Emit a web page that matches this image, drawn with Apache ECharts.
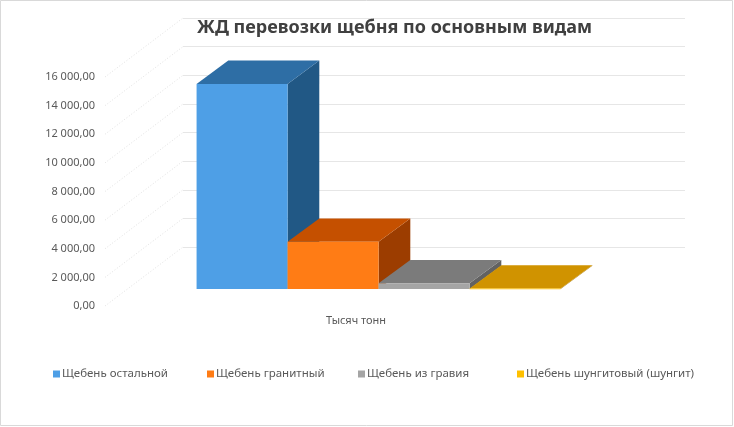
<!DOCTYPE html>
<html>
<head>
<meta charset="utf-8">
<script src="https://cdn.jsdelivr.net/npm/echarts@6/dist/echarts.min.js"></script>
<style>
  html, body { margin: 0; padding: 0; background: #fff; }
  #chart { width: 734px; height: 427px; }
</style>
</head>
<body>
<div id="chart"></div>
<script>
var categories = ['Тысяч тонн'];
var seriesNames = ['Щебень остальной', 'Щебень гранитный', 'Щебень из гравия', 'Щебень шунгитовый (шунгит)'];
var seriesValues = [14330, 3300, 400, 40];
var yTicks = [0, 2000, 4000, 6000, 8000, 10000, 12000, 14000, 16000];

// front, top, side colours of each 3d column
var frontColors = ['#4e9fe6', '#ff7c15', '#a5a5a5', '#ffc000'];
var topColors = ['#2e6ea5', '#c55000', '#7b7b7b', '#d09300'];
var sideColors = ['#215885', '#9c3d00', '#626262', '#a07000'];
var legendLeft = [53, 207, 358, 517];

var FONT = '"Noto Sans", sans-serif';
var DEPTH_DX = 31.7, DEPTH_DY = -23.3;   // column depth
var WALL_DX = 78, WALL_DY = -59;         // side wall depth
var BAR_FRAC = 0.1813;                   // column width / band

function fmt(v) {
    var s = v.toFixed(2).split('.');
    return s[0].replace(/\B(?=(\d{3})+(?!\d))/g, ' ') + ',' + s[1];
}

function barRenderer(i) {
    return function (params, api) {
        var topPt = api.coord([api.value(0), api.value(1)]);
        var basePt = api.coord([api.value(0), 0]);
        var w = api.size([1, 0])[0] * BAR_FRAC;
        var x0 = topPt[0] - 2 * w + i * w, x1 = x0 + w;
        var yT = topPt[1], yB = basePt[1];
        return {
            type: 'group',
            children: [
                {type: 'polygon', shape: {points: [[x1, yB], [x1 + DEPTH_DX, yB + DEPTH_DY], [x1 + DEPTH_DX, yT + DEPTH_DY], [x1, yT]]},
                 style: {fill: sideColors[i]}},
                {type: 'polygon', shape: {points: [[x0, yT], [x1, yT], [x1 + DEPTH_DX, yT + DEPTH_DY], [x0 + DEPTH_DX, yT + DEPTH_DY]]},
                 style: {fill: topColors[i]}},
                {type: 'rect', shape: {x: x0, y: yT, width: w, height: Math.max(yB - yT, 0.8)},
                 style: {fill: frontColors[i]}}
            ]
        };
    };
}

var barSeries = seriesNames.map(function (name, i) {
    return {
        name: name,
        type: 'custom',
        xAxisIndex: 2,
        yAxisIndex: 2,
        itemStyle: {color: frontColors[i]},
        encode: {x: 0, y: 1},
        renderItem: barRenderer(i),
        data: [[0, seriesValues[i]]]
    };
});

var legends = seriesNames.map(function (name, i) {
    return {
        data: [name],
        left: legendLeft[i], top: 368, padding: 0,
        icon: 'rect', itemWidth: 7, itemHeight: 7,
        textStyle: {fontFamily: FONT, fontSize: 11.5, color: '#595959', padding: [0, 0, 0, -3]}
    };
});

var chart = echarts.init(document.getElementById('chart'));
chart.setOption({
    backgroundColor: '#fff',
    animation: false,
    title: {
        text: 'ЖД перевозки щебня по основным видам',
        left: 197, top: 19, padding: 0,
        textStyle: {fontFamily: FONT, fontSize: 18, fontWeight: 'bold', color: '#404040'}
    },
    legend: legends,
    graphic: [{
        type: 'rect', shape: {x: 0.5, y: 0.5, width: 732, height: 425},
        style: {fill: null, stroke: '#d9d9d9', lineWidth: 1}, silent: true
    }],
    grid: [
        {left: 105, top: 77, width: 502, height: 229},   // front edge (labels)
        {left: 183, top: 18, width: 502, height: 229},   // back wall
        {left: 127.6, top: 60, width: 502, height: 229}  // front face of columns
    ],
    xAxis: [
        {gridIndex: 0, type: 'category', data: categories,
         axisLine: {show: false}, axisTick: {show: false},
         axisLabel: {margin: 9, fontFamily: FONT, fontSize: 11, color: '#595959'}},
        {gridIndex: 1, type: 'category', data: categories, show: false},
        {gridIndex: 2, type: 'category', data: categories, show: false}
    ],
    yAxis: [
        {gridIndex: 0, type: 'value', min: 0, max: 16000, interval: 2000,
         axisLine: {show: false}, axisTick: {show: false}, splitLine: {show: false},
         axisLabel: {margin: 10, fontFamily: FONT, fontSize: 11, color: '#595959', formatter: fmt}},
        {gridIndex: 1, type: 'value', min: 0, max: 16000, interval: 2000,
         axisLine: {show: false}, axisTick: {show: false}, axisLabel: {show: false},
         splitLine: {lineStyle: {color: '#e6e6e6', width: 1}}},
        {gridIndex: 2, type: 'value', min: 0, max: 16000, interval: 2000, show: false}
    ],
    series: [{
        type: 'custom',
        xAxisIndex: 0,
        yAxisIndex: 0,
        silent: true,
        encode: {x: 0, y: 1},
        renderItem: function (params, api) {
            var p = api.coord([0, api.value(1)]);
            var x = params.coordSys.x;
            return {
                type: 'line',
                shape: {x1: x, y1: p[1], x2: x + WALL_DX, y2: p[1] + WALL_DY},
                style: {stroke: '#e2e2e2', lineWidth: 1, lineDash: [1, 2]}
            };
        },
        data: yTicks.map(function (t) { return [0, t]; })
    }].concat(barSeries)
});
</script>
</body>
</html>
